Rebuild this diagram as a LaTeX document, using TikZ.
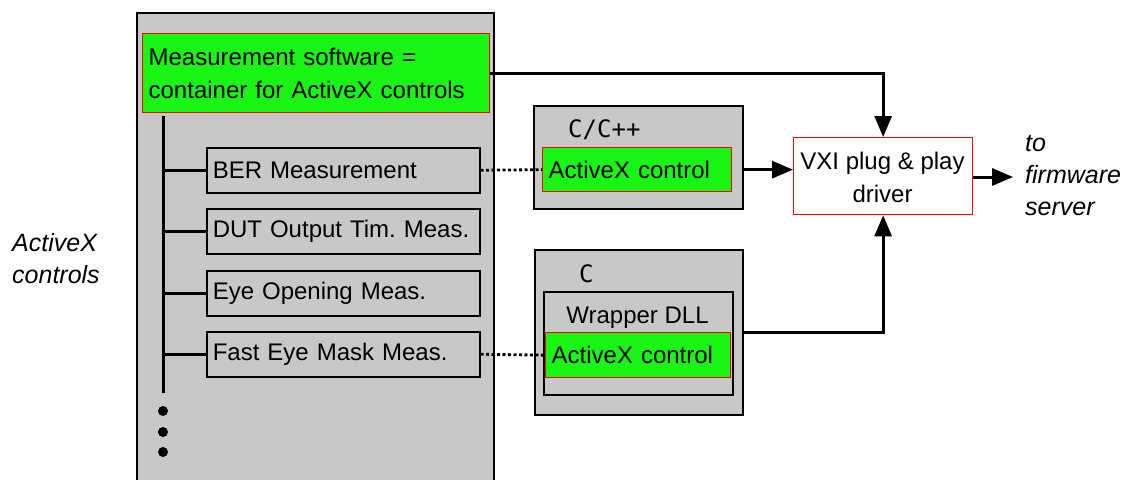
\documentclass[tikz,border=0pt]{standalone}
\usepackage{fontspec}
\setmainfont{Liberation Sans}
\newfontfamily\monofont{DejaVu Sans Mono}
\usetikzlibrary{arrows.meta}
\definecolor{boxgray}{RGB}{200,200,200}
\definecolor{brightgreen}{RGB}{25,245,20}
\begin{document}
\frenchspacing
\begin{tikzpicture}[x=1pt,y=-1pt,
  font=\fontsize{24}{33}\selectfont,
  panel/.style={draw=black, line width=2pt, fill=boxgray, inner sep=0pt, anchor=north west},
  greenbox/.style={draw=red, line width=1.3pt, fill=brightgreen, inner xsep=6pt, inner ysep=0pt, anchor=north west, align=left},
  itembox/.style={draw=black, line width=1.5pt, fill=boxgray, inner xsep=6pt, inner ysep=0pt, anchor=north west, align=left, minimum width=273, text width=261, minimum height=45},
  drvbox/.style={draw=red, line width=1.3pt, fill=white, inner sep=0pt, anchor=north west, align=center},
  conn/.style={line width=3pt},
  arr/.style={conn, -{Triangle[length=21pt,width=17pt]}},
  dotline/.style={line width=2.8pt, dash pattern=on 3pt off 2.5pt},
  langlabel/.style={font=\fontsize{24}{28}\monofont, anchor=base west, inner sep=0pt},
  note/.style={font=\fontsize{25}{32}\selectfont\itshape, anchor=base west, inner sep=0pt, align=left},
  dot/.style={circle, fill=black, inner sep=0pt, minimum size=10},
]
\useasboundingbox (0,0) rectangle (1129,479);
\fill[white] (0,0) rectangle (1129,479);

% main container
\node[panel, minimum width=357, minimum height=500] (main) at (136,12) {};
\node[greenbox, minimum width=347, minimum height=79, text width=335] (msw) at (142,33)
  {Measurement software =\\container for ActiveX controls};

% items
\node[itembox] (ber) at (206,147) {BER Measurement};
\node[itembox] (dut) at (206,208) {DUT Output Tim. Meas.};
\node[itembox] (eye) at (206,270) {Eye Opening Meas.};
\node[itembox] (fast) at (206,331) {Fast Eye Mask Meas.};

% tree
\coordinate (trunktop) at (163,116);
\coordinate (trunkbot) at (163,393);
\draw[conn] (trunktop) -- (trunkbot);
\draw[conn] (trunktop |- ber.west) -- (ber.west);
\draw[conn] (trunktop |- dut.west) -- (dut.west);
\draw[conn] (trunktop |- eye.west) -- (eye.west);
\draw[conn] (trunktop |- fast.west) -- (fast.west);
\node[dot] (d1) at (163,411) {};
\node[dot] (d2) at (163,432) {};
\node[dot] (d3) at (163,452) {};

% C/C++ panel
\node[panel, minimum width=209, minimum height=103] (cpp) at (533,105) {};
\node[langlabel] (cpplbl) at (568,137) {C/C++};
\node[greenbox, minimum width=189, minimum height=44, text width=177] (ax1) at (542,147) {ActiveX control};

% C panel
\node[panel, minimum width=208, minimum height=165] (cpan) at (534,249) {};
\node[langlabel] (clbl) at (579,282) {C};
\node[panel, minimum width=189, minimum height=103] (wrap) at (543,291) {};
\node[anchor=base, inner sep=0pt] (wraplbl) at (637.5,323) {Wrapper DLL};
\node[greenbox, minimum width=185, minimum height=45, text width=173] (ax2) at (545,332) {ActiveX control};

% driver
\node[drvbox, minimum width=179, minimum height=77] (vxi) at (793,137) {};
\node[anchor=base, inner sep=0pt, align=center] (vxitxt) at (882.5,202) {VXI plug \& play\\driver};

% notes (anchor at baseline of last line)
\node[note] (axnote) at (12,283) {ActiveX\\controls};
\node[note] (fwnote) at (1025,215) {to\\firmware\\server};

% connectors
\draw[dotline] (ber.east) -- (ax1.west);
\draw[dotline] (fast.east) -- (ax2.west);
\draw[arr] (msw.east) -| (vxi.north);
\draw[arr] (cpp.east |- ax1.west) -- (vxi.west |- ax1.west);
\draw[arr] (cpan.east |- ax2.north) -| (vxi.south);
\coordinate (fwend) at (1013,177);
\draw[arr] (vxi.east |- fwend) -- (fwend);
\end{tikzpicture}
\end{document}
